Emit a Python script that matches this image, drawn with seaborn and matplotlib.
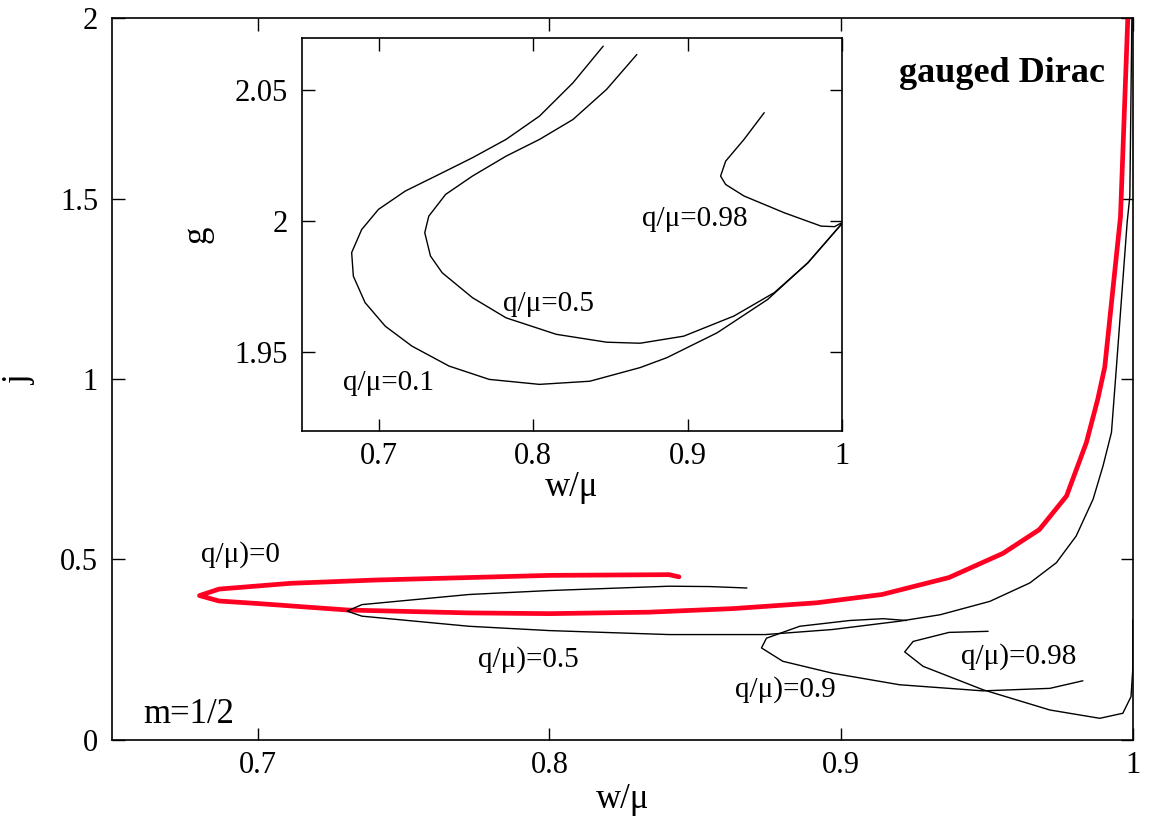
import matplotlib
matplotlib.use('Agg')
import matplotlib.pyplot as plt
import seaborn as sns
from matplotlib.ticker import FormatStrFormatter

sns.set_style("ticks")
plt.rcParams['font.family'] = ['Liberation Serif', 'DejaVu Serif']
for k in ['text.color', 'axes.labelcolor', 'xtick.color', 'ytick.color', 'axes.edgecolor']:
    plt.rcParams[k] = 'black'

# main panel: j vs w/mu, each curve listed along its path
w_q0 = [0.8444, 0.841, 0.80, 0.7724, 0.74, 0.7112, 0.6867, 0.680, 0.6867, 0.700, 0.7308,
        0.7724, 0.80, 0.834, 0.863, 0.8916, 0.914, 0.937, 0.9555, 0.968, 0.9773, 0.9841,
        0.988, 0.9904, 0.9958, 0.9983]
j_q0 = [0.452, 0.458, 0.456, 0.450, 0.443, 0.434, 0.418, 0.400, 0.385, 0.378, 0.360,
        0.352, 0.350, 0.354, 0.364, 0.380, 0.403, 0.450, 0.517, 0.583, 0.676, 0.824,
        0.944, 1.033, 1.45, 2.0]

w_q05 = [0.8677, 0.855, 0.841, 0.80, 0.7724, 0.7357, 0.7306, 0.7357, 0.7724, 0.80, 0.841,
         0.874, 0.897, 0.920, 0.934, 0.951, 0.9647, 0.9738, 0.9806, 0.9864, 0.9898,
         0.9927, 0.9944, 0.9981, 0.999, 0.9997]
j_q05 = [0.421, 0.425, 0.426, 0.414, 0.403, 0.375, 0.357, 0.343, 0.315, 0.303, 0.292,
         0.292, 0.306, 0.329, 0.347, 0.384, 0.435, 0.491, 0.565, 0.667, 0.759, 0.852,
         1.033, 1.436, 1.506, 2.0]

w_q09 = [0.9224, 0.9144, 0.903, 0.8858, 0.8744, 0.8727, 0.880, 0.897, 0.920, 0.9487,
         0.9716, 0.9829]
j_q09 = [0.331, 0.336, 0.331, 0.315, 0.282, 0.255, 0.218, 0.185, 0.153, 0.136, 0.143,
         0.164]

w_q098 = [0.9504, 0.937, 0.9247, 0.9218, 0.9281, 0.9487, 0.9716, 0.9887, 0.9966,
          0.9994, 1.0, 1.0]
j_q098 = [0.301, 0.298, 0.273, 0.244, 0.204, 0.139, 0.083, 0.060, 0.074, 0.120, 0.194,
          0.333]

# inset: g vs w/mu
w_in01 = [0.8453, 0.8257, 0.804, 0.7823, 0.7605, 0.7387, 0.717, 0.6996, 0.6887, 0.6822,
          0.6833, 0.6909, 0.704, 0.7213, 0.7453, 0.7714, 0.804, 0.8366, 0.8692, 0.8866,
          0.9192, 0.9519, 0.978, 0.9997]
g_in01 = [2.0669, 2.0529, 2.0402, 2.0313, 2.0243, 2.0179, 2.0116, 2.0046, 1.9969, 1.9881,
          1.9791, 1.969, 1.960, 1.9524, 1.9448, 1.9397, 1.9378, 1.939, 1.9442, 1.948,
          1.9575, 1.9702, 1.9842, 1.9989]

w_in05 = [0.8671, 0.8475, 0.8257, 0.804, 0.7823, 0.7605, 0.7431, 0.7322, 0.7296, 0.7333,
          0.7409, 0.7605, 0.7823, 0.8149, 0.8475, 0.8692, 0.8975, 0.9301, 0.9562, 0.978,
          0.9997]
g_in05 = [2.0637, 2.0504, 2.0389, 2.0313, 2.0249, 2.0173, 2.0103, 2.002, 1.9957, 1.9868,
          1.9804, 1.9709, 1.9632, 1.9569, 1.9539, 1.9535, 1.9562, 1.9639, 1.9728, 1.9842,
          1.9989]

w_in098 = [0.9497, 0.9366, 0.9247, 0.9214, 0.9247, 0.9366, 0.9627, 0.9866, 0.9953, 1.0]
g_in098 = [2.0415, 2.0313, 2.023, 2.0173, 2.0141, 2.0097, 2.0033, 1.9982, 1.998, 1.9995]

fig = plt.figure(figsize=(11.5, 8.23), dpi=100)
ax = fig.add_axes([0.0974, 0.1009, 0.8876, 0.8771])

red = '#ff0022'
sns.lineplot(x=w_q0, y=j_q0, sort=False, estimator=None, ax=ax, color=red, lw=3.4)
for wx, jy in [(w_q05, j_q05), (w_q09, j_q09), (w_q098, j_q098)]:
    sns.lineplot(x=wx, y=jy, sort=False, estimator=None, ax=ax, color='black', lw=1.0)

ax.set_xlim(0.65, 1.0)
ax.set_ylim(0, 2)
ax.set_xticks([0.7, 0.8, 0.9, 1.0])
ax.set_yticks([0, 0.5, 1, 1.5, 2])
ax.xaxis.set_major_formatter(FormatStrFormatter('%g'))
ax.yaxis.set_major_formatter(FormatStrFormatter('%g'))
ax.tick_params(direction='in', length=9, width=1, top=True, right=True, labelsize=22)
ax.tick_params(axis='x', pad=8)
ax.tick_params(axis='y', pad=10)
ax.set_xlabel('w/μ', fontsize=25, labelpad=2)
ax.set_ylabel('j', fontsize=25, labelpad=17)
for s in ax.spines.values():
    s.set_linewidth(1.2)

ax.text(0.9904, 1.847, 'gauged Dirac', fontsize=26, fontweight='bold', ha='right', va='center')
ax.text(0.6763, 0.07, 'm=1/2', fontsize=25, ha='center', va='center')
ax.text(0.694, 0.514, 'q/μ)=0', fontsize=21, ha='center', va='center')
ax.text(0.7926, 0.222, 'q/μ)=0.5', fontsize=21, ha='center', va='center')
ax.text(0.881, 0.139, 'q/μ)=0.9', fontsize=21, ha='center', va='center')
ax.text(0.961, 0.231, 'q/μ)=0.98', fontsize=21, ha='center', va='center')

# inset
axi = fig.add_axes([0.2626, 0.4763, 0.4694, 0.4775])
for wx, gy in [(w_in01, g_in01), (w_in05, g_in05), (w_in098, g_in098)]:
    sns.lineplot(x=wx, y=gy, sort=False, estimator=None, ax=axi, color='black', lw=1.0)
axi.set_xlim(0.65, 1.0)
axi.set_ylim(1.92, 2.07)
axi.set_xticks([0.7, 0.8, 0.9, 1.0])
axi.set_yticks([1.95, 2.0, 2.05])
axi.xaxis.set_major_formatter(FormatStrFormatter('%g'))
axi.yaxis.set_major_formatter(FormatStrFormatter('%g'))
axi.tick_params(direction='in', length=9, width=1, top=True, right=True, labelsize=22)
axi.tick_params(axis='x', pad=8)
axi.tick_params(axis='y', pad=10)
axi.set_xlabel('w/μ', fontsize=25, labelpad=0)
axi.set_ylabel('g', fontsize=25, labelpad=15)
for s in axi.spines.values():
    s.set_linewidth(1.2)
axi.text(0.9047, 2.0008, 'q/μ=0.98', fontsize=21, ha='center', va='center')
axi.text(0.8099, 1.9683, 'q/μ=0.5', fontsize=21, ha='center', va='center')
axi.text(0.7061, 1.9384, 'q/μ=0.1', fontsize=21, ha='center', va='center')

fig.savefig('out.png', dpi=100)
